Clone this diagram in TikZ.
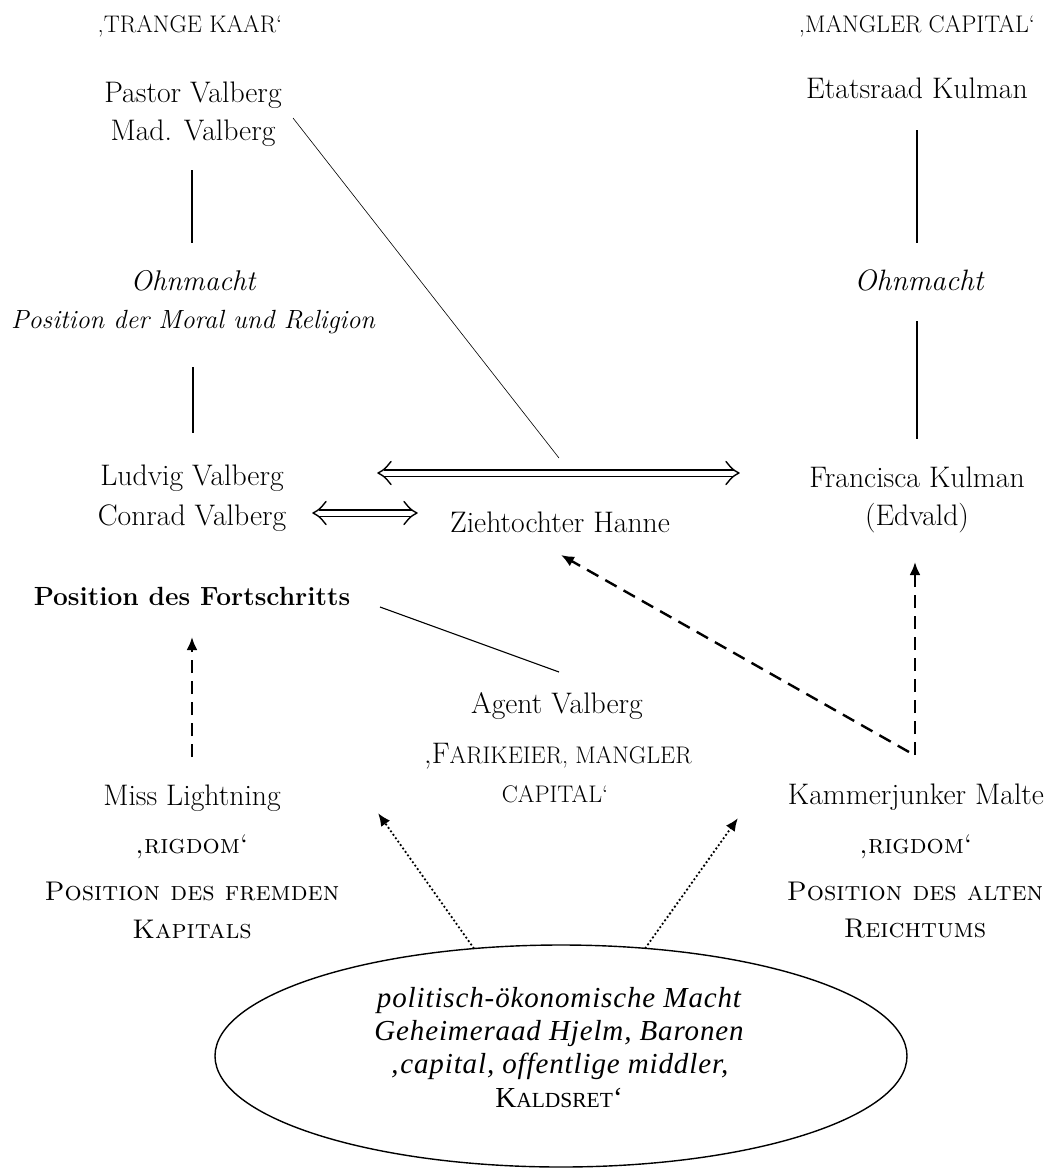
\documentclass[tikz,border=0pt]{standalone}
\usepackage{fontspec}
\newfontfamily\tnr{Liberation Serif}
\usetikzlibrary{arrows.meta,shapes.geometric}
\newcommand\fcaps[1]{{\fontsize{24}{28}\selectfont #1}}
\newcommand\heavier{\addfontfeature{FakeBold=0.5}}
\begin{document}
\begin{tikzpicture}[x=1pt,y=-1pt,
  lbl/.style={inner sep=0pt,anchor=base,font=\fontsize{29.7}{36}\selectfont\heavier},
  lbli/.style={inner sep=0pt,anchor=base,font=\fontsize{26.3}{36}\selectfont\itshape\heavier},
  lblb/.style={inner sep=0pt,anchor=base,font=\fontsize{26.3}{36}\selectfont\bfseries},
  caplbl/.style={inner sep=0pt,anchor=base,font=\fontsize{24}{28}\selectfont\heavier},
  scsub/.style={inner sep=0pt,anchor=base,font=\fontsize{27}{34}\selectfont\scshape\heavier},
  ell/.style={inner sep=0pt,anchor=base,font=\fontsize{29}{34}\tnr\itshape\addfontfeature{LetterSpace=3}},
  ellsc/.style={inner sep=0pt,anchor=base,font=\fontsize{29}{34}\tnr},
  plainline/.style={line width=1.4pt},
  thinline/.style={line width=0.6pt},
  midline/.style={line width=1.1pt},
  dasharrow/.style={line width=2.4pt,dash pattern=on 13pt off 8pt,-{Latex[length=13pt,width=11pt]}},
  dotarrow/.style={line width=2.6pt,line cap=round,dash pattern=on 0pt off 4.2pt,-{Latex[length=13pt,width=11pt]}},
  dblshaft/.style={double,double distance=5pt,line width=1.3pt,shorten <=5.5pt,shorten >=5.5pt},
  dblhead/.style={line width=1.4pt,line cap=round,line join=round},
]
\useasboundingbox (0,0) rectangle (1052,1171);
\fill[white] (0,0) rectangle (1052,1171);

% left column
\node[caplbl] (trange) at (190,32) {‚TRANGE KAAR‘};
\node[lbl] (pastor) at (193,102) {Pastor Valberg};
\node[lbl] (mad) at (193,140) {Mad. Valberg};
\node[lbli,font=\fontsize{28.5}{36}\selectfont\itshape\heavier] (ohnL) at (193,290) {Ohnmacht};
\node[lbli] (moral) at (193,328) {Position der Moral und Religion};
\node[lbl] (ludvig) at (192,485) {Ludvig Valberg};
\node[lbl] (conrad) at (192,525) {Conrad Valberg};
\node[lblb] (fort) at (192,605) {Position des Fortschritts};
\node[lbl] (miss) at (192,805) {Miss Lightning};
\node[scsub] (rigL) at (192,853) {‚rigdom‘};
\node[scsub] (posL1) at (192,900) {Position des fremden};
\node[scsub] (posL2) at (192,938) {Kapitals};

% middle
\node[lbl] (hanne) at (560,532) {Ziehtochter Hanne};
\node[lbl] (agent) at (557,713) {Agent Valberg};
\node[lbl] (farik) at (558,763) {‚F\fcaps{ARIKEIER, MANGLER}};
\node[caplbl] (capA) at (555,802) {CAPITAL‘};

% right column
\node[caplbl] (mangler) at (917,32) {‚MANGLER CAPITAL‘};
\node[lbl] (etats) at (917,98) {Etatsraad Kulman};
\node[lbli,font=\fontsize{29.5}{36}\selectfont\itshape\heavier] (ohnR) at (919,290) {Ohnmacht};
\node[lbl] (francisca) at (917,487) {Francisca Kulman};
\node[lbl] (edvald) at (917,525) {(Edvald)};
\node[lbl] (malte) at (916,804) {Kammerjunker Malte};
\node[scsub] (rigR) at (916,853) {‚rigdom‘};
\node[scsub] (posR1) at (915,900) {Position des alten};
\node[scsub] (posR2) at (915,937) {Reichtums};

% ellipse
\node[draw,ellipse,line width=1.4pt,minimum width=692pt,minimum height=222pt,inner sep=0pt] (macht) at (561,1056) {};
\node[ell] (e1) at (559,1007) {politisch-ökonomische Macht};
\node[ell] (e2) at (559,1040) {Geheimeraad Hjelm, Baronen};
\node[ell] (e3) at (559,1073) {‚capital, offentlige middler,};
\node[ellsc] (e4) at (559,1107) {K{\fontsize{21.5}{26}\selectfont ALDSRET}‘};

% connector end points
\coordinate (v1a) at (192,170); \coordinate (v1b) at (192,243);
\coordinate (v2a) at (193,367); \coordinate (v2b) at (193,433);
\coordinate (v3a) at (917,130); \coordinate (v3b) at (917,243);
\coordinate (v4a) at (917,321); \coordinate (v4b) at (917,439);
\coordinate (pa) at (293,118); \coordinate (pb) at (559,458);
\coordinate (fa) at (380,607); \coordinate (fb) at (559,672);
\coordinate (d1a) at (313,513); \coordinate (d1b) at (417,513);
\coordinate (d2a) at (378,473); \coordinate (d2b) at (739,473);
\coordinate (m1) at (192,757); \coordinate (fo) at (192,637);
\coordinate (m2) at (915,755); \coordinate (fr) at (915,562);
\coordinate (m3) at (909,752); \coordinate (hn) at (561,555);
\coordinate (tl) at (378,813); \coordinate (tr) at (738,818);

\draw[plainline] (v1a) -- (v1b);
\draw[plainline] (v2a) -- (v2b);
\draw[plainline] (v3a) -- (v3b);
\draw[plainline] (v4a) -- (v4b);
\draw[thinline] (pa) -- (pb);
\draw[midline] (fa) -- (fb);

% double arrows (open heads)
\draw[dblshaft] (d1a) -- (d1b);
\draw[dblhead,shift={(d1a)}] (13,-11.5) .. controls (6.5,-3.5) .. (0,0) .. controls (6.5,3.5) .. (13,11.5);
\draw[dblhead,shift={(d1b)}] (-13,-11.5) .. controls (-6.5,-3.5) .. (0,0) .. controls (-6.5,3.5) .. (-13,11.5);
\draw[dblshaft] (d2a) -- (d2b);
\draw[dblhead,shift={(d2a)}] (13,-11.5) .. controls (6.5,-3.5) .. (0,0) .. controls (6.5,3.5) .. (13,11.5);
\draw[dblhead,shift={(d2b)}] (-13,-11.5) .. controls (-6.5,-3.5) .. (0,0) .. controls (-6.5,3.5) .. (-13,11.5);

\draw[dasharrow] (m1) -- (fo);
\draw[dasharrow] (m2) -- (fr);
\draw[dasharrow] (m3) -- (hn);
\draw[dotarrow] (macht.129) -- (tl);
\draw[dotarrow] (macht.52) -- (tr);
\end{tikzpicture}
\end{document}
